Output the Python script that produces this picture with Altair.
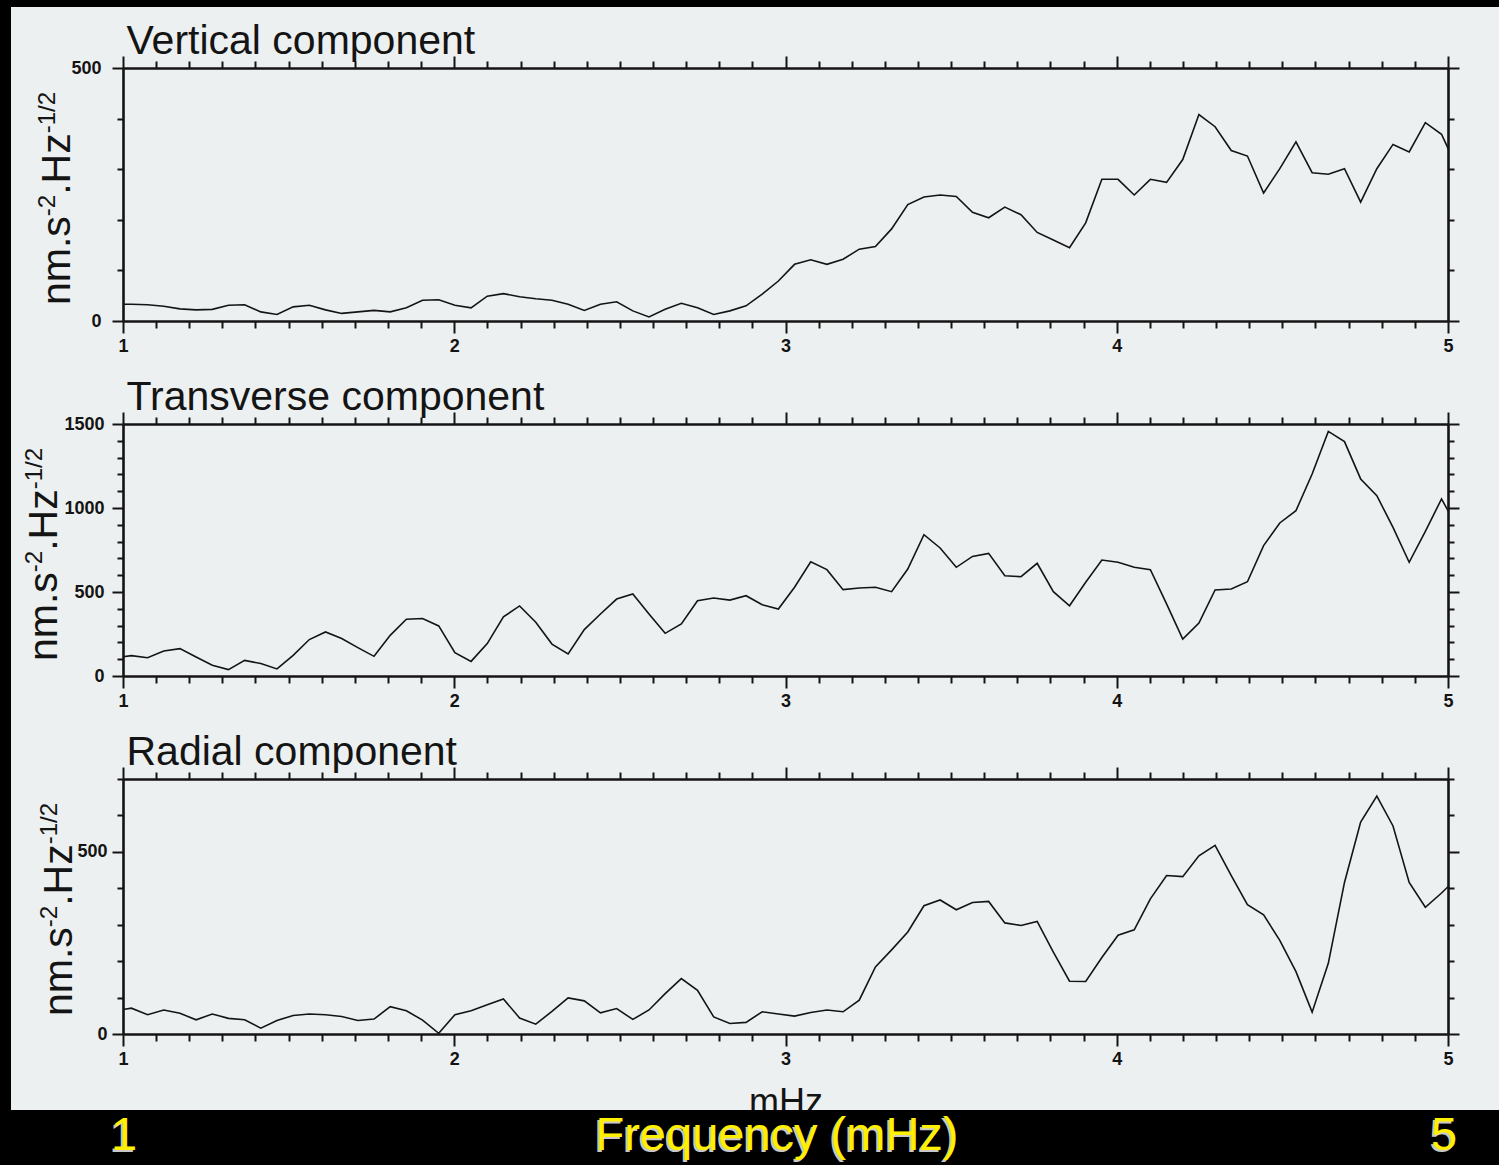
import altair as alt
import pandas as pd

# Spectral bins of a 2048-sample, 10 s record: df = 1/20480 s = 0.048828125 mHz.
# Bins 20..103 bracket the 1-5 mHz band so each trace reaches both frame edges.
BIN_WIDTH_MHZ = 1000.0 / 20480.0
BINS = list(range(20, 104))
freq_mhz = [round(k * BIN_WIDTH_MHZ, 6) for k in BINS]

# Amplitude spectra, nm.s-2.Hz-1/2, one value per bin
vertical = [
    33, 33, 32, 29, 24, 22, 23, 31, 32, 18,
    13, 28, 31, 22, 15, 18, 21, 18, 26, 41,
    42, 31, 26, 49, 54, 48, 44, 41, 33, 21,
    33, 38, 20, 8, 23, 35, 26, 13, 20, 30,
    53, 79, 112, 121, 112, 122, 142, 147, 182, 230,
    245, 249, 246, 215, 204, 225, 210, 175, 160, 145,
    194, 280, 280, 249, 280, 274, 319, 408, 384, 337,
    326, 253, 301, 354, 293, 290, 301, 235, 301, 349,
    334, 392, 369, 300,
]
transverse = [
    108, 121, 109, 149, 163, 113, 64, 38, 93, 74,
    42, 123, 217, 262, 223, 169, 117, 242, 338, 342,
    298, 139, 87, 193, 352, 417, 320, 190, 131, 276,
    369, 458, 488, 369, 254, 310, 448, 464, 452, 478,
    424, 399, 528, 680, 633, 514, 524, 528, 502, 637,
    841, 762, 647, 712, 730, 597, 591, 671, 502, 418,
    558, 690, 677, 647, 633, 429, 220, 315, 512, 518,
    561, 776, 911, 984, 1202, 1456, 1395, 1173, 1073, 885,
    677, 861, 1054, 880,
]
radial = [
    64, 71, 53, 66, 57, 39, 55, 43, 39, 16,
    37, 51, 55, 53, 48, 37, 41, 75, 64, 38,
    2, 53, 64, 80, 96, 44, 27, 62, 99, 91,
    58, 70, 40, 66, 111, 152, 120, 47, 29, 32,
    61, 55, 49, 59, 66, 61, 93, 184, 231, 280,
    352, 368, 341, 361, 364, 305, 298, 309, 225, 145,
    144, 210, 271, 286, 371, 435, 432, 489, 518, 435,
    355, 327, 257, 171, 60, 194, 416, 582, 653, 571,
    416, 348, 387, 430,
]

panel_titles = ["Vertical component", "Transverse component", "Radial component"]
y_tops = [500, 1500, 700]
y_label_step = 500
x_ticks = [round(1 + 0.1 * i, 1) for i in range(41)]
# y-axis unit, written as base text / superscript pieces
unit_pieces = [("nm.s", False), ("-2", True), (".Hz", False), ("-1/2", True)]
x_unit = "mHz"
footer_left, footer_mid, footer_right = "1", "Frequency (mHz)", "5"

PAPER = "#edf0f0"
INK = "#141414"
YELLOW = "#fff000"
FONT = "Liberation Sans"
W = 1325
HEIGHTS = [253, 252, 255]
SPACING = 103
LEFT, RIGHT_EDGE = 123, 1499

MAJOR_X = "abs(datum.value - round(datum.value)) < 0.001"

# Arial/Liberation advance widths (em) for the unit label glyphs
ADV = {"n": 0.556, "m": 0.833, ".": 0.278, "s": 0.5, "-": 0.333, "2": 0.556,
       "H": 0.722, "z": 0.5, "1": 0.556, "/": 0.278}
UNIT_SIZE, SUP_SIZE, SUP_RAISE = 41, 24, 15


def axis_style(**kw):
    base = dict(
        grid=False, domainColor=INK, domainWidth=2.6, tickColor=INK, tickWidth=2,
        labelFont=FONT, labelFontSize=18, labelFontWeight="bold", labelColor=INK,
        labelOverlap=False, labelFlush=False, labelBound=False,
    )
    base.update(kw)
    return alt.Axis(**base)


one_row = pd.DataFrame({"row": [0]})


def unit_label(x_base, y_start):
    """Rotated y-axis unit with raised exponents, reading bottom to top."""
    layers = []
    y = y_start
    for text, sup in unit_pieces:
        size = SUP_SIZE if sup else UNIT_SIZE
        layers.append(
            alt.Chart(one_row).mark_text(
                text=text, font=FONT, fontSize=size, color=INK, angle=270,
                align="left", baseline="alphabetic",
            ).encode(x=alt.value(x_base - (SUP_RAISE if sup else 0)), y=alt.value(y))
        )
        y -= sum(ADV[c] for c in text) * size
    return layers


def panel(values, title, ytop, height, unit_x, y_pad, x_title=None, extras=()):
    df = pd.DataFrame({"freq": freq_mhz, "amp": values})
    xs = alt.Scale(domain=[1, 5], nice=False, zero=False)
    ys = alt.Scale(domain=[0, ytop], nice=False)
    y_ticks = list(range(0, ytop + 1, 100))
    major_y = f"datum.value % {y_label_step} === 0"
    x_tick_size = {"condition": {"test": MAJOR_X, "value": 12}, "value": 7}
    y_tick_size = {"condition": {"test": major_y, "value": 11}, "value": 6}
    x_common = dict(values=x_ticks, tickCount=len(x_ticks), tickMinStep=0.1,
                    tickSize=x_tick_size)
    y_common = dict(values=y_ticks, tickCount=len(y_ticks), tickMinStep=100,
                    tickSize=y_tick_size)

    x_bottom_kw = dict(
        orient="bottom", labelPadding=4,
        labelExpr=f"{MAJOR_X} ? format(datum.value, 'd') : ''", title=x_title,
        **x_common,
    )
    if x_title:
        x_bottom_kw.update(
            titleFont=FONT, titleFontSize=36, titleFontWeight="normal", titleColor=INK,
            titleBaseline="alphabetic", titleY=79, titleX=W / 2, titleAlign="center",
        )
    x_bottom = axis_style(**x_bottom_kw)
    y_left = axis_style(
        orient="left", labelPadding=y_pad, format="d",
        labelExpr=f"{major_y} ? datum.label : ''", title=None, **y_common,
    )
    # the panel heading rides on the top axis
    x_top = axis_style(
        orient="top", labels=False, title=title, titleFont=FONT, titleFontSize=41,
        titleFontWeight="normal", titleColor=INK, titleAlign="left",
        titleBaseline="alphabetic", titleX=3, titleY=-15, **x_common,
    )
    y_right = axis_style(orient="right", labels=False, title=None, **y_common)

    base = alt.Chart(df)
    trace = base.mark_line(color=INK, strokeWidth=1.6, clip=True).encode(
        x=alt.X("freq:Q", scale=xs, axis=x_bottom),
        y=alt.Y("amp:Q", scale=ys, axis=y_left),
    )
    frame = base.mark_line(opacity=0, clip=True).encode(
        x=alt.X("freq:Q", scale=xs, axis=x_top),
        y=alt.Y("amp:Q", scale=ys, axis=y_right),
    )
    return (
        alt.layer(trace, frame, *unit_label(unit_x, 237), *extras)
        .resolve_axis(x="independent", y="independent")
        .properties(width=W, height=height)
    )


def band(x0, x1, y0, y1):
    return alt.Chart(one_row).mark_rect(color="black").encode(
        x=alt.value(x0), x2=alt.value(x1), y=alt.value(y0), y2=alt.value(y1)
    )


def caption(text, x, y, color, dx=0, dy=0):
    return alt.Chart(one_row).mark_text(
        text=text, font=FONT, fontSize=47, color=color, align="center",
        baseline="alphabetic", dx=dx, dy=dy,
    ).encode(x=alt.value(x), y=alt.value(y))


# dark scan border along the top and left of the page
edge_top = band(-LEFT, RIGHT_EDGE - LEFT, -68, -61)
edge_left = band(-LEFT, -LEFT + 11, -68, 1165 - 68)

# slide caption strip under the last panel
p3_top = 779
strip = band(-LEFT, RIGHT_EDGE - LEFT, 1110 - p3_top, 1165 - p3_top)
cap_y = 1150 - p3_top
captions = []
for txt, cx in [(footer_left, 1), (footer_mid, 654), (footer_right, 1321)]:
    captions.append(caption(txt, cx, cap_y, "#c8c8c8", dx=-2, dy=2))
    captions.append(caption(txt, cx, cap_y, YELLOW))

p1 = panel(vertical, panel_titles[0], y_tops[0], HEIGHTS[0], unit_x=-53, y_pad=11,
           extras=(edge_top, edge_left))
p2 = panel(transverse, panel_titles[1], y_tops[1], HEIGHTS[1], unit_x=-66, y_pad=8)
p3 = panel(radial, panel_titles[2], y_tops[2], HEIGHTS[2], unit_x=-51, y_pad=5,
           x_title=x_unit, extras=(strip, *captions))

chart = (
    alt.vconcat(p1, p2, p3, spacing=SPACING, bounds="flush")
    .properties(background=PAPER, padding=0)
    .configure_view(strokeWidth=0)
)

chart.save("out.html", embed_options={"renderer": "svg", "actions": False})
